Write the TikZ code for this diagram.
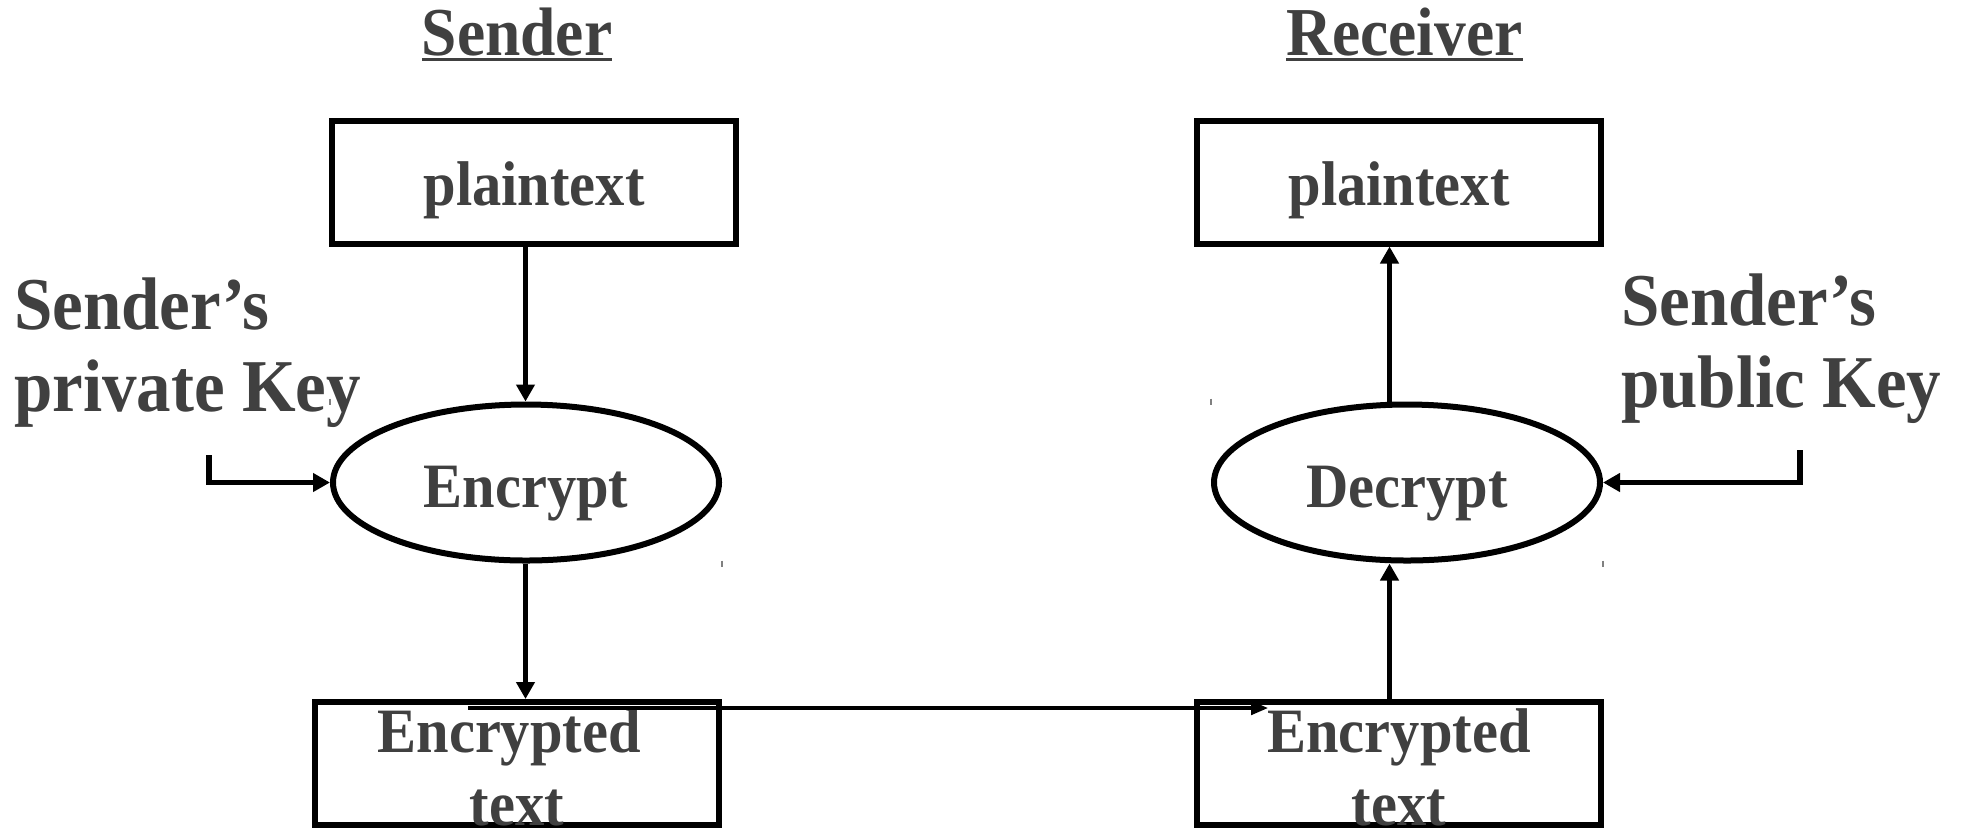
\documentclass[tikz,border=0pt]{standalone}
\usepackage{fontspec}
\setmainfont{Liberation Serif}
\usetikzlibrary{arrows.meta,shapes.geometric}
\definecolor{ink}{HTML}{404040}
% slightly tall lettering
\newcommand\tallb[1]{\scalebox{1}[1.08]{#1}}

\begin{document}
\begin{tikzpicture}[x=0.5pt,y=-0.5pt,
  every node/.style={inner sep=0pt, outer sep=auto, text=ink},
  bodytext/.style={font=\fontsize{29.25}{33.8}\selectfont\bfseries},
  keytext/.style={font=\fontsize{34.5}{38}\selectfont\bfseries},
  titletext/.style={font=\fontsize{31.75}{36}\selectfont\bfseries},
  box/.style={draw=black, line width=3pt, rectangle,
    minimum width=202pt, minimum height=61.5pt, bodytext},
  oval/.style={draw=black, line width=3pt, ellipse,
    minimum width=193pt, minimum height=78pt, bodytext,
    text height=24.5pt, text depth=0pt},
  arr/.style={draw=black, line width=2.65pt, -{Triangle[length=8.5pt,width=9pt]}},
  thinarr/.style={draw=black, line width=1.6pt, -{Triangle[length=8.5pt,width=6.8pt]}},
  headline/.style={draw=ink, line width=1.35pt},
  tickmark/.style={draw=gray, line width=0.6pt}
]
\useasboundingbox (0,0) rectangle (1963,827);

% column headings
\node[titletext, anchor=base] (sendhead) at (517,55) {\tallb{Sender}};
\node[titletext, anchor=base] (recvhead) at (1404.5,55) {\tallb{Receiver}};
\draw[headline] ([yshift=-2.4pt]sendhead.base west) -- ([yshift=-2.4pt]sendhead.base east);
\draw[headline] ([yshift=-2.4pt]recvhead.base west) -- ([yshift=-2.4pt]recvhead.base east);

% sender side
\node[box, text height=23pt, text depth=0pt] (ptL) at (534,182) {\tallb{plaintext}};
\node[oval] (enc) at (526,482.5) {\tallb{Encrypt}};
\node[box, text height=0pt, text depth=11.5pt] (ctL) at (517,763.5)
  {\tallb{\begin{tabular}[t]{@{}c@{}}Encrypted\hspace*{0.27em}\\text\end{tabular}}};
\node[keytext, anchor=base west] (privkey) at (14,329)
  {\tallb{\begin{tabular}[t]{@{}l@{}}Sender’s\\private Key\end{tabular}}};

% receiver side
\node[box, text height=23pt, text depth=0pt] (ptR) at (1399,182) {\tallb{plaintext}};
\node[oval] (dec) at (1407,482.5) {\tallb{Decrypt}};
\node[box, text height=0pt, text depth=11.5pt] (ctR) at (1399,763.5)
  {\tallb{\begin{tabular}[t]{@{}c@{}}Encrypted\\text\end{tabular}}};
\node[keytext, anchor=base west] (pubkey) at (1621,325)
  {\tallb{\begin{tabular}[t]{@{}l@{}}Sender’s\\public Key\end{tabular}}};

% connector columns and free ends
\coordinate (xL) at (525.5,0);
\coordinate (xR) at (1389.5,0);
\coordinate (kL) at (209,455);
\coordinate (kR) at (1800,450);
\coordinate (sendpt) at (468,708);
\coordinate (recvpt) at (1268,708);

% flows
\draw[arr] (ptL.south -| xL) -- (enc.north -| xL);
\draw[arr] (enc.south -| xL) -- (ctL.north -| xL);
\draw[arr] (kL) |- (enc.west);
\draw[thinarr] (sendpt) -- (recvpt);
\draw[arr] (ctR.north -| xR) -- (dec.south -| xR);
\draw[arr] (dec.north -| xR) -- (ptR.south -| xR);
\draw[arr] (kR) |- (dec.east);

% small corner marks of the ovals
\draw[tickmark] ([yshift=1.5pt]enc.west |- enc.north) -- ++(0,6);
\draw[tickmark] ([yshift=1.5pt]enc.east |- enc.south) -- ++(0,6);
\draw[tickmark] ([yshift=1.5pt]dec.west |- dec.north) -- ++(0,6);
\draw[tickmark] ([yshift=1.5pt]dec.east |- dec.south) -- ++(0,6);
\end{tikzpicture}
\end{document}
